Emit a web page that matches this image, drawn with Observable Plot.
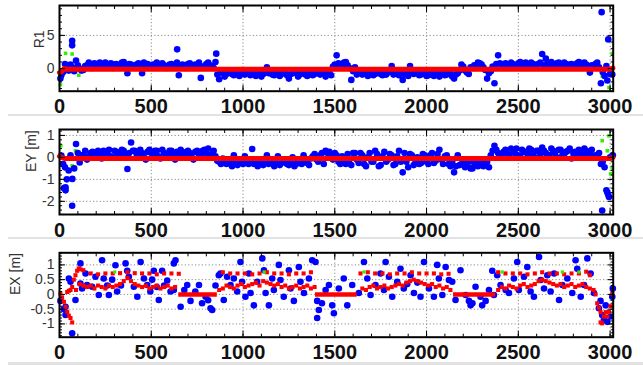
<!DOCTYPE html>
<html><head><meta charset="utf-8">
<script src="https://cdn.jsdelivr.net/npm/d3@7"></script>
<script src="https://cdn.jsdelivr.net/npm/@observablehq/plot@0.6"></script>
<style>
body{margin:0;background:#fff;width:643px;height:365px;overflow:hidden;position:relative;font-family:"Liberation Sans",Arial,sans-serif}
.panel{position:absolute;left:0}
.sep{position:absolute;left:8px;right:0;background:#e2e2e2}
</style></head><body>
<div id="p1" class="panel" style="top:0px"></div>
<div class="sep" style="top:114px;height:2px"></div>
<div id="p2" class="panel" style="top:116px"></div>
<div class="sep" style="top:237px;height:2px"></div>
<div id="p3" class="panel" style="top:239px"></div>
<div class="sep" style="top:362px;height:3px"></div>
<script>
// ---------- shared x ticks ----------
const xDomain = [0, 3017];
const xMajor = [0, 500, 1000, 1500, 2000, 2500, 3000];
const xMinor = [0,100,200,300,400,500,600,700,800,900,1000,1100,1200,1300,1400,1500,1600,1700,1800,1900,2000,2100,2200,2300,2400,2500,2600,2700,2800,2900,3000];

// ---------- sample epochs for the dense bands (panels 1 and 2) ----------
const bandX = [
10,30,50,70,90,110,130,150,170,190,
210,230,250,270,290,310,330,350,370,390,
410,430,450,470,490,510,530,550,570,590,
610,630,650,670,690,710,730,750,770,790,
810,830,850,870,890,910,930,950,970,990,
1010,1030,1050,1070,1090,1110,1130,1150,1170,1190,
1210,1230,1250,1270,1290,1310,1330,1350,1370,1390,
1410,1430,1450,1470,1490,1510,1530,1550,1570,1590,
1610,1630,1650,1670,1690,1710,1730,1750,1770,1790,
1810,1830,1850,1870,1890,1910,1930,1950,1970,1990,
2010,2030,2050,2070,2090,2110,2130,2150,2170,2190,
2210,2230,2250,2270,2290,2310,2330,2350,2370,2390,
2410,2430,2450,2470,2490,2510,2530,2550,2570,2590,
2610,2630,2650,2670,2690,2710,2730,2750,2770,2790,
2810,2830,2850,2870,2890,2910,2930,2950,2970,2990];
const bandX2 = [
20,40,60,80,100,120,140,160,180,200,
220,240,260,280,300,320,340,360,380,400,
420,440,460,480,500,520,540,560,580,600,
620,640,660,680,700,720,740,760,780,800,
820,840,860,880,900,920,940,960,980,1000,
1020,1040,1060,1080,1100,1120,1140,1160,1180,1200,
1220,1240,1260,1280,1300,1320,1340,1360,1380,1400,
1420,1440,1460,1480,1500,1520,1540,1560,1580,1600,
1620,1640,1660,1680,1700,1720,1740,1760,1780,1800,
1820,1840,1860,1880,1900,1920,1940,1960,1980,2000,
2020,2040,2060,2080,2100,2120,2140,2160,2180,2200,
2220,2240,2260,2280,2300,2320,2340,2360,2380,2400,
2420,2440,2460,2480,2500,2520,2540,2560,2580,2600,
2620,2640,2660,2680,2700,2720,2740,2760,2780,2800,
2820,2840,2860,2880,2900,2920,2940,2960,2980,3000];

// ---------- panel 1 : R1 ----------
const r1Y = [
-1.0,0.7,-0.3,0.2,1.2,0.0,-0.2,0.5,0.3,0.8,
0.2,0.6,0.9,0.4,0.1,0.7,0.5,1.0,-0.7,0.6,
0.3,0.8,-0.7,0.4,0.2,0.6,0.9,0.3,0.5,0.1,
0.7,0.4,-1.0,0.6,0.2,0.8,0.3,0.5,-1.4,0.4,
0.9,0.3,1.0,-1.6,-0.4,-0.8,-0.5,-1.0,-0.6,-0.3,
-0.9,-0.5,-0.7,-1.1,-0.4,-0.8,0.2,-0.6,-1.0,-0.5,
-0.8,-0.3,-1.5,-0.7,-0.4,-0.9,-0.6,-1.1,-0.5,-0.8,
-0.3,-0.6,-1.2,-0.5,0.3,2.0,0.6,0.9,0.5,-1.7,
0.2,-0.6,-0.9,-0.4,-0.7,-1.0,-0.5,-0.8,-0.3,-0.6,
0.4,-0.7,-1.0,-1.7,-0.5,0.4,-0.8,-0.4,-0.9,-0.6,
-1.0,-0.5,-0.8,-1.2,-0.6,-0.9,-0.4,-1.5,-0.7,0.6,
-0.3,-0.8,0.1,0.4,0.8,0.2,-1.5,-0.4,-2.2,2.0,
0.5,0.8,0.3,0.7,0.5,1.0,0.4,0.6,0.9,0.3,
0.7,2.2,1.5,0.6,0.4,0.8,0.5,0.9,0.3,0.7,
0.5,1.0,0.4,0.6,-0.6,0.3,0.9,-2.2,-1.1,4.4];
const r1Y2 = [
-0.5,0.3,0.6,-0.4,0.5,-0.3,0.4,0.9,0.1,0.5,
0.9,0.3,0.5,0.8,0.6,0.2,0.9,0.4,0.7,0.2,
0.6,0.4,0.9,0.7,0.5,0.3,0.6,0.8,0.2,0.6,
0.3,0.9,0.5,0.1,0.7,0.4,0.6,0.9,0.2,0.7,
0.5,0.1,-0.9,-0.6,-1.2,-0.3,-0.8,-0.6,-1.1,-0.7,
-0.4,-1.0,-0.6,-0.8,-1.2,-0.5,-0.7,-0.9,-0.4,-1.1,
-0.6,-1.0,-0.8,-0.4,-1.2,-0.7,-0.9,-0.6,-1.0,-0.4,
-0.9,-0.7,-0.4,-1.0,0.6,0.8,0.3,1.0,0.1,-0.4,
-0.9,-0.4,-0.7,-1.1,-0.5,-0.8,-0.6,-1.0,-0.9,-0.4,
-0.9,-0.5,-0.6,-0.8,-1.1,-0.6,-0.5,-1.0,-0.7,-1.1,
-0.7,-1.1,-0.5,-0.8,-1.0,-0.6,-1.2,-0.9,-0.3,0.3,
-0.6,0.2,0.5,0.9,0.6,-0.2,-0.7,0.3,0.7,0.8,
0.3,0.6,0.9,0.5,0.8,0.6,0.9,0.4,0.7,0.6,
0.9,0.5,0.8,1.0,0.6,0.9,0.3,0.7,0.6,0.4,
0.8,0.6,0.9,0.3,0.5,0.7,0.2,-0.5,0.4,-0.8];
const r1ExtraX = [5, 69, 69, 641, 854, 2954, 3012, 2985];
const r1ExtraY = [-1.5, 4.2, 3.5, 2.9, 2.25, 8.5, -0.9, -1.8];
const r1GreenX = [5, 33, 69, 105, 3012, 2994, 2957];
const r1GreenY = [-2.4, 2.3, 2.2, -1.0, 2.25, -2.85, -1.1];
const r1RedX = [0, 10, 25, 45, 3000, 3015];
const r1RedY = [-0.6, -0.5, 0.0, -0.1, -0.1, 0.1];
const r1YMajor = [0, 5];
const r1YMinor = [-3,-2,-1,0,1,2,3,4,5,6,7,8,9];

// ---------- panel 2 : EY [m] ----------
const eyY = [
0.08,-0.45,-0.6,-0.98,0.61,-0.23,0.1,-0.1,0.2,0.05,
0.3,-0.05,0.15,0.35,0.0,0.25,0.1,0.3,-0.53,0.68,
0.3,0.05,0.2,-0.1,0.35,0.15,0.3,-0.05,0.2,0.1,
0.3,-0.1,0.15,0.25,0.0,0.2,-0.1,0.3,0.1,0.35,
0.4,0.15,0.05,-0.2,-0.05,-0.3,-0.15,0.1,-0.35,-0.2,
0.05,-0.3,0.38,-0.25,-0.1,-0.35,0.1,-0.2,-0.4,0.05,
-0.25,-0.15,-0.35,0.0,-0.3,-0.1,0.1,-0.25,-0.05,0.15,
-0.2,0.2,0.3,0.25,-0.1,0.1,-0.3,-0.15,0.15,-0.35,
0.2,-0.25,0.1,-0.4,0.2,-0.2,0.15,-0.35,0.25,-0.1,
0.1,-0.3,0.3,-0.68,-0.2,0.15,-0.35,0.0,-0.25,0.1,
-0.3,0.2,-0.15,0.35,-0.3,0.1,-0.4,-0.68,0.1,-0.3,
-0.45,-0.2,-0.5,-0.3,-0.1,-0.4,-0.2,0.1,0.53,0.2,
0.0,0.35,0.1,0.3,0.4,0.05,0.25,0.15,0.35,0.0,
0.3,0.45,0.2,0.1,0.3,0.0,0.35,0.15,0.3,-0.05,
0.25,0.35,0.1,0.3,0.2,0.05,0.1,-0.3,-0.45,-1.7];
const eyY2 = [
-0.3,-1.0,0.1,-0.5,0.2,0.1,0.3,0.05,0.25,0.15,
0.1,0.3,0.2,0.05,0.3,0.15,0.35,0.05,0.2,0.3,
0.15,0.35,0.0,0.25,0.2,0.3,0.05,0.35,0.15,0.3,
0.05,0.25,0.35,0.1,0.3,0.15,0.25,0.05,0.3,0.2,
0.1,0.3,-0.15,-0.3,-0.1,-0.25,-0.4,-0.2,-0.1,-0.3,
-0.2,-0.1,-0.3,-0.4,-0.2,-0.1,-0.3,-0.15,-0.25,-0.35,
-0.1,-0.3,-0.2,-0.4,-0.15,-0.3,-0.2,-0.35,0.05,-0.1,
0.1,-0.3,0.2,0.0,0.2,-0.2,0.05,-0.3,-0.1,0.2,
-0.1,0.2,-0.3,0.0,-0.2,0.3,-0.4,0.05,-0.2,0.15,
-0.35,0.05,-0.2,0.2,-0.45,0.1,-0.15,-0.3,0.15,-0.2,
0.1,-0.25,0.15,-0.1,0.05,-0.3,-0.2,-0.4,-0.35,-0.15,
-0.35,-0.5,-0.25,-0.4,-0.3,-0.2,-0.45,0.3,0.35,0.1,
0.25,0.15,0.4,0.2,0.1,0.35,0.25,0.4,0.1,0.3,
0.15,0.3,0.1,0.4,0.2,0.35,0.1,0.25,0.4,0.2,
0.1,0.2,0.4,0.15,0.35,0.1,0.2,-0.2,-1.5,0.0];
const eyExtraX = [24, 33, 33, 69, 2957, 2994, 2985, 3015];
const eyExtraY = [-1.4, -1.36, -1.5, -2.2, -2.42, -1.8, -1.6, 0.1];
const eyGreenX = [7, 20, 33, 33, 69, 87, 2957, 2994, 3003, 3012, 2985];
const eyGreenY = [0.53, -0.3, -0.53, -0.98, -0.38, 0.3, 0.76, 0.98, -0.75, -0.5, 0.3];
const eyRedX = [0, 10, 30, 3000, 3015];
const eyRedY = [0.05, 0.0, -0.05, -0.05, 0.0];
const eyYMajor = [-2, -1, 0, 1];
const eyYMinor = [-2.6,-2.4,-2.2,-2,-1.8,-1.6,-1.4,-1.2,-1,-0.8,-0.6,-0.4,-0.2,0,0.2,0.4,0.6,0.8,1,1.2];

// ---------- panel 3 : EX [m] ----------
const exX = [5,24,33,33,51,60,69,87,114,114,123,142,150,178,196,214,232,241,260,269,287,305,314,335,360,369,378,405,424,442,460,478,495,505,514,530,541,559,570,587,605,623,632,623,660,680,696,714,740,760,777,796,810,823,832,850,868,877,895,913,932,950,968,986,995,1013,1032,1041,1059,1077,1105,1114,1123,1141,1159,1168,1195,1204,1222,1250,1259,1277,1304,1313,1332,1359,1377,1395,1404,1404,1413,1430,1450,1468,1486,1495,1522,1549,1568,1595,1631,1659,1677,1695,1722,1749,1768,1777,1795,1813,1840,1858,1876,1895,1913,1931,1950,1967,1986,2013,2040,2058,2067,2086,2104,2122,2140,2158,2185,2213,2231,2240,2250,2267,2294,2303,2322,2340,2358,2367,2385,2403,2431,2449,2476,2494,2503,2531,2549,2567,2585,2613,2622,2640,2658,2676,2695,2722,2740,2767,2794,2812,2821,2840,2858,2876,2894,2912,2939,2948,2957,2966,2976,2985,3003,3012,3015];
const exY = [-0.22,-0.5,-0.42,-0.7,0.54,0.43,-1.32,-0.19,1.05,0.37,0.2,0.71,0.32,0.26,0.6,-0.02,1.16,0.54,0.3,-0.02,0.5,0.99,0.1,0.3,1.05,0.8,0.6,0.26,-0.08,1.1,0.54,0.32,0.1,0.5,0.8,0.25,-0.19,0.8,0.3,0.47,0.1,1.05,1.16,0.15,-0.42,0.15,0.32,-0.22,0.1,0.32,-0.3,-0.08,-0.2,-0.47,-0.53,0.3,0.65,0.71,-0.19,0.6,0.32,0.54,0.1,1.1,0.43,-0.08,0.71,0.05,-0.37,0.43,1.22,0.82,0.05,-0.37,0.54,0.15,1.0,0.49,-0.08,0.82,0.2,-0.22,0.93,0.43,0.05,0.54,1.16,1.1,-0.22,-0.8,-0.53,-0.3,0.15,0.32,-0.37,-0.64,0.2,0.54,-0.37,0.32,0.05,1.1,0.54,-0.02,0.32,0.71,0.15,1.1,0.6,-0.08,0.43,0.87,0.2,0.35,0.65,0.05,0.4,-0.08,1.1,0.2,-0.08,1.0,0.54,-0.02,0.93,0.49,0.43,-0.19,0.82,-0.02,-0.22,-0.37,-0.3,0.26,-0.08,-0.37,-0.22,0.15,0.8,-0.02,0.65,0.32,0.15,0.05,0.54,1.1,0.15,0.6,0.93,0.1,-0.08,1.27,0.49,0.2,0.65,0.1,0.71,-0.19,0.32,0.54,0.05,1.16,0.87,-0.08,0.32,1.22,0.71,0.05,-0.47,-0.22,-0.7,-0.87,-0.37,-0.93,-0.75,-0.08,0.2];
// red model estimates: middle series
const exMidX = [90,110,130,150,170,190,210,230,250,270,290,310,330,350,370,390,410,430,450,470,490,510,530,550,570,590,610,630,
870,890,910,930,950,970,990,1010,1030,1050,1070,1090,1110,1130,1150,1170,1190,1210,1230,1250,1270,1290,1310,1330,1350,1370,1390,
1650,1670,1690,1710,1730,1750,1770,1790,1810,1830,1850,1870,1890,1910,1930,1950,1970,1990,2010,2030,2050,2070,2090,2110,2130,
2390,2410,2430,2450,2470,2490,2510,2530,2550,2570,2590,2610,2630,2650,2670,2690,2710,2730,2750,2770,2790,2810,2830,2850,2870,2890,2910];
const exMidY = [0.15,0.35,0.3,0.25,0.3,0.2,0.3,0.25,0.2,0.3,0.25,0.3,0.35,0.45,0.55,0.45,0.35,0.3,0.25,0.3,0.2,0.25,0.3,0.2,0.25,0.3,0.2,0.25,
0.15,0.2,0.3,0.25,0.2,0.3,0.35,0.25,0.3,0.35,0.4,0.3,0.45,0.4,0.35,0.3,0.35,0.25,0.3,0.2,0.25,0.3,0.2,0.25,0.3,0.2,0.25,
0.2,0.15,0.25,0.3,0.2,0.25,0.3,0.2,0.25,0.3,0.35,0.3,0.4,0.45,0.5,0.45,0.4,0.35,0.3,0.35,0.25,0.3,0.2,0.25,0.15,
0.15,0.25,0.2,0.3,0.25,0.2,0.3,0.35,0.25,0.3,0.35,0.45,0.5,0.45,0.4,0.35,0.3,0.35,0.25,0.3,0.35,0.25,0.3,0.35,0.25,0.2,0.15];
// red model estimates: upper series (dashed)
const exUpX = [96,105,114,130,170,210,250,290,330,370,410,450,490,530,570,610,650,
890,930,970,1010,1050,1090,1130,1170,1210,1250,1290,1330,1370,
1640,1680,1720,1760,1800,1840,1880,1920,1960,2000,2040,2080,2120,
2390,2430,2470,2510,2550,2590,2630,2670,2710,2750,2790,2830,2870,2890];
const exUpY = [0.8,0.88,0.85,0.82,0.71,0.68,0.71,0.71,0.72,0.75,0.72,0.71,0.71,0.68,0.71,0.71,0.7,
0.75,0.71,0.71,0.71,0.68,0.71,0.75,0.71,0.71,0.68,0.71,0.71,0.75,
0.71,0.75,0.71,0.71,0.68,0.71,0.71,0.75,0.71,0.71,0.71,0.68,0.7,
0.75,0.71,0.71,0.71,0.68,0.71,0.75,0.71,0.71,0.68,0.71,0.71,0.77,0.65];
// red model estimates: start and end transients
const exEdgeX = [5,14,24,33,42,51,60,69,42,51,60,69,78,87,2921,2930,2939,2948,2957,2948,2966,2976,2985,2994,3003,3012];
const exEdgeY = [0.03,-0.1,-0.25,-0.42,-0.59,-0.72,-0.8,-0.95,0.08,0.12,0.15,0.25,0.5,0.65,0.0,-0.3,-0.45,-0.6,-0.98,-0.95,-0.75,-0.6,-0.75,-0.59,-0.4,0.03];
// flat (zero) model stretches
const exFlatX1 = [650, 1395, 2147];
const exFlatX2 = [860, 1622, 2376];
const exFlatY = [0, 0, 0];
const exGreenX = [301, 1115, 1659, 2412, 2740, 2830];
const exGreenY = [0.76, 0.76, 0.76, 0.76, 0.76, 0.76];
const exYMajor = [-1, -0.5, 0, 0.5, 1];
const exYMinor = [-1.4,-1.3,-1.2,-1.1,-1,-0.9,-0.8,-0.7,-0.6,-0.5,-0.4,-0.3,-0.2,-0.1,0,0.1,0.2,0.3,0.4,0.5,0.6,0.7,0.8,0.9,1,1.1,1.2,1.3,1.4];

// ---------- helpers ----------
const pts = (xs, ys) => xs.map((x, i) => ({x, y: ys[i]}));
const FONT = '"Liberation Sans", Arial, Helvetica, sans-serif';

function panel({h, mt, mb, yDomain, yMajor, yMinor, label, labelDx, marks}) {
  return Plot.plot({
    width: 643, height: h,
    marginLeft: 59, marginRight: 30.3, marginTop: mt, marginBottom: mb,
    x: {domain: xDomain},
    y: {domain: yDomain},
    style: {background: "transparent", fontFamily: FONT, overflow: "visible"},
    marks: [
      Plot.gridX(xMajor, {stroke: "#8a8a8a", strokeOpacity: 1, strokeDasharray: "1.2,2.2"}),
      Plot.gridY(yMajor, {stroke: "#8a8a8a", strokeOpacity: 1, strokeDasharray: "1.2,2.2"}),
      ...marks,
      Plot.axisX(xMinor, {anchor: "bottom", tickSize: -3, text: null, label: null}),
      Plot.axisX(xMinor, {anchor: "top", tickSize: -3, text: null, label: null}),
      Plot.axisX(xMajor, {anchor: "bottom", tickSize: -6, text: null, label: null}),
      Plot.axisX(xMajor, {anchor: "top", tickSize: -6, text: null, label: null}),
      Plot.axisY(yMinor, {anchor: "left", tickSize: -3, text: null, label: null}),
      Plot.axisY(yMinor, {anchor: "right", tickSize: -3, text: null, label: null}),
      Plot.axisY(yMajor, {anchor: "left", tickSize: -6, text: null, label: null}),
      Plot.axisY(yMajor, {anchor: "right", tickSize: -6, text: null, label: null}),
      Plot.axisX(xMajor, {anchor: "bottom", tickSize: 0, tickPadding: 8, fontSize: 20, fontWeight: "bold", fill: "#111", label: null, tickFormat: d => String(d)}),
      Plot.axisY(yMajor, {anchor: "left", tickSize: 0, tickPadding: 5, fontSize: 14, fill: "#333", label: null, tickFormat: d => String(d)}),
      Plot.text([label], {frameAnchor: "left", dx: labelDx, rotate: -90, fontSize: 14, fill: "#333"}),
      Plot.frame({stroke: "black", strokeWidth: 2})
    ]
  });
}

const blue = "#0000ff", red = "#ff0000", green = "#33ee00";

document.getElementById("p1").append(panel({
  h: 114, mt: 5, mb: 23.3, yDomain: [-3.4, 9.5], yMajor: r1YMajor, yMinor: r1YMinor,
  label: "R1", labelDx: -20,
  marks: [
    Plot.dot(pts(r1GreenX, r1GreenY), {x: "x", y: "y", symbol: "square", r: 2, fill: green}),
    Plot.dot(pts(bandX, r1Y), {x: "x", y: "y", r: 3.3, fill: blue}),
    Plot.dot(pts(bandX2, r1Y2), {x: "x", y: "y", r: 3.3, fill: blue}),
    Plot.dot(pts(r1ExtraX, r1ExtraY), {x: "x", y: "y", r: 3.3, fill: blue}),
    Plot.line(pts(r1RedX, r1RedY), {x: "x", y: "y", stroke: red, strokeWidth: 5})
  ]
}));

document.getElementById("p2").append(panel({
  h: 121, mt: 13, mb: 23, yDomain: [-2.6, 1.27], yMajor: eyYMajor, yMinor: eyYMinor,
  label: "EY [m]", labelDx: -28,
  marks: [
    Plot.dot(pts(eyGreenX, eyGreenY), {x: "x", y: "y", symbol: "square", r: 2, fill: green}),
    Plot.dot(pts(bandX, eyY), {x: "x", y: "y", r: 3.3, fill: blue}),
    Plot.dot(pts(bandX2, eyY2), {x: "x", y: "y", r: 3.3, fill: blue}),
    Plot.dot(pts(eyExtraX, eyExtraY), {x: "x", y: "y", r: 3.3, fill: blue}),
    Plot.line(pts(eyRedX, eyRedY), {x: "x", y: "y", stroke: red, strokeWidth: 5})
  ]
}));

const flats = exFlatX1.map((x1, i) => ({x1, x2: exFlatX2[i], y: exFlatY[i]}));
document.getElementById("p3").append(panel({
  h: 123, mt: 13.3, mb: 25.3, yDomain: [-1.45, 1.41], yMajor: exYMajor, yMinor: exYMinor,
  label: "EX [m]", labelDx: -43.5,
  marks: [
    Plot.dot(pts(exX, exY), {x: "x", y: "y", r: 3.3, fill: blue}),
    Plot.ruleY(flats, {x1: "x1", x2: "x2", y: "y", stroke: red, strokeWidth: 4.5}),
    Plot.dot(pts(exMidX, exMidY), {x: "x", y: "y", symbol: "square", r: 2.3, fill: red}),
    Plot.dot(pts(exUpX, exUpY), {x: "x", y: "y", symbol: "square", r: 2.3, fill: red}),
    Plot.dot(pts(exEdgeX, exEdgeY), {x: "x", y: "y", symbol: "square", r: 2.3, fill: red}),
    Plot.dot(pts(exGreenX, exGreenY), {x: "x", y: "y", symbol: "square", r: 1.8, fill: green})
  ]
}));
</script>
</body></html>
